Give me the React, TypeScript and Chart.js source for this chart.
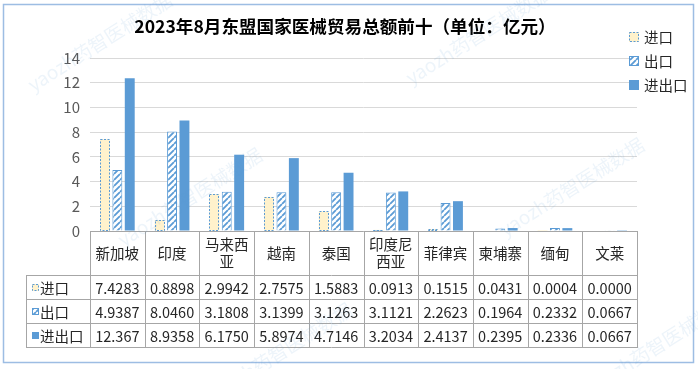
import { useEffect, useRef } from 'react';
import { Chart, registerables } from 'chart.js';

Chart.register(...registerables);

const TITLE = '2023年8月东盟国家医械贸易总额前十（单位：亿元）';
const WATERMARK = 'yaozh药智医械数据';
const categories: (string | string[])[] = ['新加坡', '印度', ['马来西', '亚'], '越南', '泰国', ['印度尼', '西亚'], '菲律宾', '柬埔寨', '缅甸', '文莱'];
const seriesNames = ['进口', '出口', '进出口'];
const importValues = [7.4283, 0.8898, 2.9942, 2.7575, 1.5883, 0.0913, 0.1515, 0.0431, 0.0004, 0.0];
const exportValues = [4.9387, 8.046, 3.1808, 3.1399, 3.1263, 3.1121, 2.2623, 0.1964, 0.2332, 0.0667];
const totalValues = [12.367, 8.9358, 6.175, 5.8974, 4.7146, 3.2034, 2.4137, 0.2395, 0.2336, 0.0667];
const yMin = 0;
const yMax = 14;
const yStep = 2;

const FONT = '"Noto Sans CJK SC", "Noto Sans", sans-serif';
const BLUE = '#5B9BD5';
const CREAM = '#FFF2CC';
const GRID = '#D9D9D9';
const TABLE_LINE = '#A6A6A6';
const TEXT = '#262626';

const fmt = (v: number) => (v >= 10 ? v.toFixed(3) : v.toFixed(4));

function makeHatch(ctx: CanvasRenderingContext2D) {
  const c = document.createElement('canvas');
  c.width = 6;
  c.height = 6;
  const g = c.getContext('2d')!;
  g.fillStyle = '#ffffff';
  g.fillRect(0, 0, 6, 6);
  g.strokeStyle = BLUE;
  g.lineWidth = 1.8;
  g.beginPath();
  for (const o of [-6, 0, 6]) {
    g.moveTo(o, 6);
    g.lineTo(o + 6, 0);
  }
  g.stroke();
  return ctx.createPattern(c, 'repeat')!;
}

function drawIcon(ctx: CanvasRenderingContext2D, idx: number, x: number, y: number, s: number, hatch: CanvasPattern) {
  ctx.save();
  if (idx === 0) {
    ctx.fillStyle = CREAM;
    ctx.fillRect(x, y, s, s);
    ctx.setLineDash([2, 1.5]);
    ctx.strokeStyle = BLUE;
    ctx.lineWidth = 1;
    ctx.strokeRect(x + 0.5, y + 0.5, s - 1, s - 1);
  } else if (idx === 1) {
    ctx.fillStyle = hatch;
    ctx.fillRect(x, y, s, s);
    ctx.strokeStyle = BLUE;
    ctx.lineWidth = 1;
    ctx.strokeRect(x + 0.5, y + 0.5, s - 1, s - 1);
  } else {
    ctx.fillStyle = BLUE;
    ctx.fillRect(x, y, s, s);
  }
  ctx.restore();
}

export default function App() {
  const ref = useRef<HTMLCanvasElement>(null);

  useEffect(() => {
    const canvas = ref.current!;
    const ctx0 = canvas.getContext('2d')!;
    const hatch = makeHatch(ctx0);
    const rows = [importValues, exportValues, totalValues];

    const decor = {
      id: 'decor',
      beforeDraw(chart: any) {
        const ctx = chart.ctx as CanvasRenderingContext2D;
        ctx.save();
        ctx.fillStyle = '#ffffff';
        ctx.fillRect(0, 0, chart.width, chart.height);
        ctx.strokeStyle = '#9DBDE3';
        ctx.lineWidth = 1.5;
        ctx.strokeRect(3.5, 4.5, 690, 358);
        ctx.restore();
      },
      afterDatasetsDraw(chart: any) {
        const ctx = chart.ctx as CanvasRenderingContext2D;
        const meta = chart.getDatasetMeta(0);
        ctx.save();
        ctx.setLineDash([2, 1.5]);
        ctx.strokeStyle = BLUE;
        ctx.lineWidth = 1;
        meta.data.forEach((bar: any) => {
          const p = bar.getProps(['x', 'y', 'base', 'width'], true);
          const h = p.base - p.y;
          if (h < 0.3) return;
          const l = Math.round(p.x - p.width / 2);
          const r = Math.round(p.x + p.width / 2);
          const t = Math.round(p.y);
          const b = Math.round(p.base);
          ctx.strokeRect(l + 0.5, t + 0.5, r - l - 1, Math.max(b - t - 1, 0.5));
        });
        ctx.restore();
      },
      afterDraw(chart: any) {
        const ctx = chart.ctx as CanvasRenderingContext2D;
        const area = chart.chartArea;
        const xs = chart.scales.x;
        ctx.save();
        // title
        ctx.fillStyle = '#000000';
        ctx.font = `bold 17.6px ${FONT}`;
        ctx.textAlign = 'center';
        ctx.textBaseline = 'middle';
        ctx.fillText(TITLE, 345, 26);

        // legend
        ctx.font = `14.5px ${FONT}`;
        ctx.textAlign = 'left';
        seriesNames.forEach((name, i) => {
          const cy = 37 + i * 24;
          drawIcon(ctx, i, 629, cy - 5, 10, hatch);
          ctx.fillStyle = TEXT;
          ctx.fillText(name, 644, cy);
        });

        // data table
        const n = categories.length;
        const cw = (area.right - area.left) / n;
        const top = Math.round(area.bottom);
        const headB = top + 44;
        const rowH = 24;
        const tableB = headB + rowH * 3;
        const labelL = 26;
        ctx.strokeStyle = TABLE_LINE;
        ctx.lineWidth = 1;
        ctx.beginPath();
        ctx.moveTo(area.left, top + 0.5);
        ctx.lineTo(area.right, top + 0.5);
        for (let r = 0; r <= 3; r++) {
          const y = headB + r * rowH + 0.5;
          ctx.moveTo(labelL, y);
          ctx.lineTo(area.right, y);
        }
        ctx.moveTo(labelL + 0.5, headB);
        ctx.lineTo(labelL + 0.5, tableB + 1);
        for (let i = 0; i <= n; i++) {
          const x = Math.round(xs.getPixelForValue(i) - cw / 2) + 0.5;
          ctx.moveTo(x, top);
          ctx.lineTo(x, tableB + 1);
        }
        ctx.stroke();

        ctx.fillStyle = TEXT;
        ctx.font = `14.5px ${FONT}`;
        ctx.textAlign = 'center';
        categories.forEach((c, i) => {
          const cx = xs.getPixelForValue(i);
          const lines = Array.isArray(c) ? c : [c];
          const mid = (top + headB) / 2;
          lines.forEach((ln, k) => {
            ctx.fillText(ln, cx, mid + (k - (lines.length - 1) / 2) * 17);
          });
          rows.forEach((vals, r) => {
            ctx.fillText(fmt(vals[i]), cx, headB + r * rowH + rowH / 2 + 1);
          });
        });
        ctx.textAlign = 'left';
        seriesNames.forEach((name, r) => {
          const cy = headB + r * rowH + rowH / 2 + 1;
          drawIcon(ctx, r, 32, cy - 4, 7, hatch);
          ctx.fillStyle = TEXT;
          ctx.fillText(name, 40, cy);
        });

        // watermarks
        ctx.fillStyle = 'rgba(91,155,213,0.11)';
        ctx.font = `19px ${FONT}`;
        ctx.textAlign = 'center';
        const marks = [
          [100, 42], [478, 35], [190, 197], [572, 187], [280, 352], [658, 345],
        ];
        marks.forEach(([mx, my]) => {
          ctx.save();
          ctx.translate(mx, my);
          ctx.rotate(-0.56);
          ctx.fillText(WATERMARK, 0, 0);
          ctx.restore();
        });
        ctx.restore();
      },
    };

    const chart = new Chart(canvas, {
      type: 'bar',
      data: {
        labels: categories.map((c) => (Array.isArray(c) ? c.join('') : c)),
        datasets: [
          { label: seriesNames[0], data: importValues, backgroundColor: CREAM, borderWidth: 0 },
          { label: seriesNames[1], data: exportValues, backgroundColor: hatch, borderColor: BLUE, borderWidth: 1 },
          { label: seriesNames[2], data: totalValues, backgroundColor: BLUE, borderWidth: 0 },
        ],
      },
      options: {
        responsive: false,
        animation: false,
        devicePixelRatio: 1,
        datasets: { bar: { categoryPercentage: 0.68, barPercentage: 0.8 } },
        layout: { padding: { left: 50, right: 61, top: 58, bottom: 138 } },
        plugins: { legend: { display: false }, title: { display: false }, tooltip: { enabled: false } },
        scales: {
          x: { display: false },
          y: {
            min: yMin,
            max: yMax,
            afterFit: (s: any) => {
              s.width = 40;
            },
            ticks: { stepSize: yStep, color: '#595959', font: { size: 15, family: FONT }, padding: 10 },
            grid: { color: GRID, drawTicks: false },
            border: { display: false },
          },
        },
      },
      plugins: [decor],
    });
    return () => chart.destroy();
  }, []);

  return (
    <div style={{ position: 'fixed', left: 0, top: 0, width: 698, height: 369 }}>
      <canvas ref={ref} width={698} height={369} style={{ width: 698, height: 369, display: 'block' }} />
    </div>
  );
}
